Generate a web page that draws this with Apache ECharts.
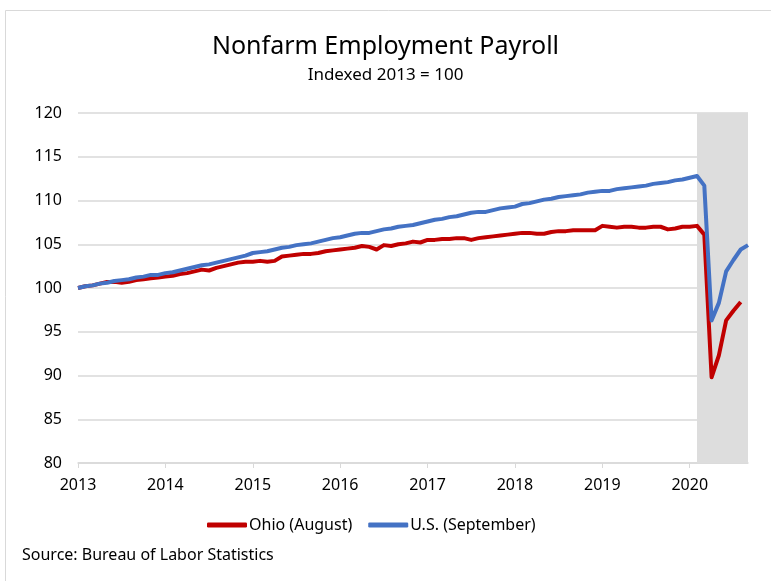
<!DOCTYPE html>
<html>
<head>
<meta charset="utf-8">
<script src="https://cdn.jsdelivr.net/npm/echarts@6/dist/echarts.min.js"></script>
<style>
html,body{margin:0;padding:0;background:#fff;}
#chart{width:771px;height:581px;}
</style>
</head>
<body>
<div id="chart"></div>
<script>
// Monthly categories Jan 2013 .. Sep 2020
const years = [2013, 2014, 2015, 2016, 2017, 2018, 2019, 2020];
const months = [];
for (const y of years) {
  for (let m = 1; m <= 12; m++) {
    if (y === 2020 && m > 9) break;
    months.push(y + '-' + (m < 10 ? '0' + m : m));
  }
}

// Ohio (through August 2020)
const ohio = [
  100.0, 100.2, 100.3, 100.5, 100.7, 100.7, 100.6, 100.7, 100.9, 101.0, 101.1, 101.2,
  101.3, 101.4, 101.6, 101.7, 101.9, 102.1, 102.0, 102.3, 102.5, 102.7, 102.9, 103.0,
  103.0, 103.1, 103.0, 103.1, 103.6, 103.7, 103.8, 103.9, 103.9, 104.0, 104.2, 104.3,
  104.4, 104.5, 104.6, 104.8, 104.7, 104.4, 104.9, 104.8, 105.0, 105.1, 105.3, 105.2,
  105.5, 105.5, 105.6, 105.6, 105.7, 105.7, 105.5, 105.7, 105.8, 105.9, 106.0, 106.1,
  106.2, 106.3, 106.3, 106.2, 106.2, 106.4, 106.5, 106.5, 106.6, 106.6, 106.6, 106.6,
  107.1, 107.0, 106.9, 107.0, 107.0, 106.9, 106.9, 107.0, 107.0, 106.7, 106.8, 107.0,
  107.0, 107.1, 106.1, 89.8, 92.3, 96.3, 97.4, 98.4
];

// U.S. (through September 2020)
const us = [
  100.0, 100.2, 100.3, 100.5, 100.6, 100.8, 100.9, 101.0, 101.2, 101.3, 101.5, 101.5,
  101.7, 101.8, 102.0, 102.2, 102.4, 102.6, 102.7, 102.9, 103.1, 103.3, 103.5, 103.7,
  104.0, 104.1, 104.2, 104.4, 104.6, 104.7, 104.9, 105.0, 105.1, 105.3, 105.5, 105.7,
  105.8, 106.0, 106.2, 106.3, 106.3, 106.5, 106.7, 106.8, 107.0, 107.1, 107.2, 107.4,
  107.6, 107.8, 107.9, 108.1, 108.2, 108.4, 108.6, 108.7, 108.7, 108.9, 109.1, 109.2,
  109.3, 109.6, 109.7, 109.9, 110.1, 110.2, 110.4, 110.5, 110.6, 110.7, 110.9, 111.0,
  111.1, 111.1, 111.3, 111.4, 111.5, 111.6, 111.7, 111.9, 112.0, 112.1, 112.3, 112.4,
  112.6, 112.8, 111.7, 96.3, 98.3, 101.9, 103.2, 104.4, 104.9
];

const seriesNames = ['Ohio (August)', 'U.S. (September)'];
const shadeRange = ['2020-02', '2020-09'];
const yTicks = { min: 80, max: 120, step: 5 };

const FONT = "'Noto Sans', sans-serif";
const chart = echarts.init(document.getElementById('chart'), null, { renderer: 'canvas' });
chart.setOption({
  animation: false,
  backgroundColor: '#fff',
  textStyle: { fontFamily: FONT },
  title: {
    text: 'Nonfarm Employment Payroll',
    subtext: 'Indexed 2013 = 100',
    left: 'center',
    top: 29,
    itemGap: 8,
    textStyle: { fontFamily: FONT, fontSize: 25, fontWeight: 'normal', color: '#000' },
    subtextStyle: { fontFamily: FONT, fontSize: 17, color: '#000' }
  },
  graphic: [
    { type: 'rect', shape: { x: 5.5, y: 10.5, width: 800, height: 600 }, style: { fill: 'none', stroke: '#D9D9D9', lineWidth: 1 }, silent: true },
    { type: 'text', left: 22, top: 547, style: { text: 'Source: Bureau of Labor Statistics', font: "16px " + FONT, fill: '#000' } }
  ],
  legend: {
    left: 202,
    top: 512,
    itemWidth: 40,
    itemHeight: 5,
    itemGap: 16,
    icon: 'roundRect',
    textStyle: { fontFamily: FONT, fontSize: 16, color: '#000', padding: [0, 0, 0, -3] },
    data: seriesNames
  },
  grid: { left: 78, right: 23, top: 113, bottom: 118, containLabel: false },
  xAxis: {
    type: 'category',
    data: months,
    boundaryGap: false,
    axisLine: { lineStyle: { color: '#D9D9D9', width: 1.5 } },
    axisTick: { show: true, interval: function (i) { return i % 12 === 0; }, length: 5, lineStyle: { color: '#D9D9D9' } },
    axisLabel: {
      interval: function (i) { return i % 12 === 0; },
      formatter: function (v) { return v.slice(0, 4); },
      fontFamily: FONT, fontSize: 16, color: '#000', margin: 14
    },
    splitLine: { show: false }
  },
  yAxis: {
    type: 'value',
    min: yTicks.min,
    max: yTicks.max,
    interval: yTicks.step,
    axisLine: { show: false },
    axisTick: { show: false },
    axisLabel: { fontFamily: FONT, fontSize: 16, color: '#000', margin: 16 },
    splitLine: { lineStyle: { color: '#D9D9D9', width: 1.5 } }
  },
  series: [
    {
      name: seriesNames[0],
      type: 'line',
      data: ohio,
      showSymbol: false,
      symbol: 'none',
      lineStyle: { color: '#C00000', width: 4, join: 'round' },
      itemStyle: { color: '#C00000' },
      z: 3,
      markArea: {
        silent: true,
        itemStyle: { color: '#DDDDDD' },
        data: [[{ xAxis: shadeRange[0] }, { xAxis: shadeRange[1] }]]
      }
    },
    {
      name: seriesNames[1],
      type: 'line',
      data: us,
      showSymbol: false,
      symbol: 'none',
      lineStyle: { color: '#4472C4', width: 4, join: 'round' },
      itemStyle: { color: '#4472C4' },
      z: 4
    }
  ]
});
</script>
</body>
</html>
